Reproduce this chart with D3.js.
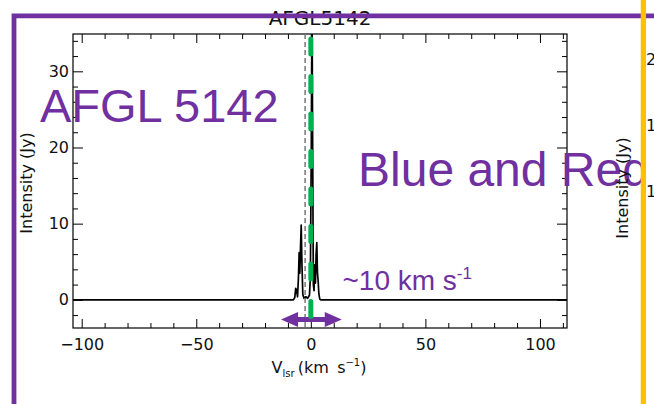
<!DOCTYPE html>
<html><head><meta charset="utf-8">
<script src="https://cdn.jsdelivr.net/npm/d3@7"></script>
<style>
html,body{margin:0;padding:0;background:#fff;}
svg{display:block;}
</style></head>
<body><svg id="c" width="654" height="404"></svg>
<script>
// ---- data ----
const velocity  = [-103.8, -60, -20, -7.6, -7.0, -6.6, -6.2, -5.8, -5.4, -5.1, -4.8, -4.5, -4.2, -3.9, -3.5, -3.0, -2.2, -1.4, -0.6, -0.2, 0.2, 0.5, 0.8, 1.1, 1.4, 1.7, 2.0, 2.3, 2.6, 2.9, 3.2, 3.5, 3.9, 4.3, 20, 60, 111.8];
const intensity = [0, 0, 0, 0, 0.3, 1.5, 1.2, 0.4, 3.0, 6.2, 3.5, 7.0, 9.8, 5.0, 0.7, 0.2, 0.4, 0.2, 0.6, 3.0, 20, 40, 20, 2.0, 1.2, 4.6, 2.2, 6.0, 7.5, 3.5, 2.4, 0.8, 0.1, 0, 0, 0, 0];
const xDomain = [-103.8, 111.8];
const yDomain = [-3.7, 34.9];
const xMajorTicks = [-100, -50, 0, 50, 100];
const xMinorTicks = [-90, -80, -70, -60, -40, -30, -20, -10, 10, 20, 30, 40, 60, 70, 80, 90, 110];
const yMajorTicks = [0, 10, 20, 30];
const yMinorTicks = [-2, 2, 4, 6, 8, 12, 14, 16, 18, 22, 24, 26, 28, 32, 34];
const systemicVelocity = [0];     // green dashed marker
const referenceVelocity = [-2.5]; // grey dashed marker
const arrowSpan = [-13, 13.5];
const arrowLevel = [-2.6];
const plotTitle = "AFGL5142";
const slideTitle = "AFGL 5142";
const slideSubtitle = "Blue and Red";
const widthLabel = "~10 km s";
const widthLabelExp = "-1";
const rightPanelTickLabels = ["2", "1", "1"];
const rightPanelTickValues = [20, 15, 10];

// ---- drawing ----
const svg = d3.select("#c");
const M = {l: 73, r: 567, t: 34, b: 328};
const x = d3.scaleLinear().domain(xDomain).range([M.l, M.r]);
const y = d3.scaleLinear().domain(yDomain).range([M.b, M.t]);
const FONT = "DejaVu Sans";
const PURPLE = "#7030a0";

svg.append("defs").append("clipPath").attr("id", "plotclip")
  .append("rect").attr("x", M.l).attr("y", M.t).attr("width", M.r - M.l).attr("height", M.b - M.t);
svg.select("defs").append("clipPath").attr("id", "slideclip")
  .append("rect").attr("x", 0).attr("y", 0).attr("width", 642).attr("height", 404);

function styleAxis(g) {
  g.select(".domain").remove();
  g.selectAll(".tick line").attr("stroke", "#000").attr("stroke-width", 1);
  g.selectAll(".tick text").attr("font-family", FONT).attr("font-size", 16).attr("fill", "#111");
}
const fmt = d => d3.format("d")(d).replace("-", "\u2212");

// bottom
svg.append("g").attr("transform", `translate(0,${M.b})`)
  .call(d3.axisBottom(x).tickValues(xMajorTicks).tickSizeInner(-9).tickSizeOuter(0).tickPadding(11).tickFormat(fmt))
  .call(styleAxis);
svg.append("g").attr("transform", `translate(0,${M.b})`)
  .call(d3.axisBottom(x).tickValues(xMinorTicks).tickSizeInner(-5).tickSizeOuter(0).tickFormat(""))
  .call(styleAxis);
// top
svg.append("g").attr("transform", `translate(0,${M.t})`)
  .call(d3.axisTop(x).tickValues(xMajorTicks).tickSizeInner(-9).tickSizeOuter(0).tickFormat(""))
  .call(styleAxis);
svg.append("g").attr("transform", `translate(0,${M.t})`)
  .call(d3.axisTop(x).tickValues(xMinorTicks).tickSizeInner(-5).tickSizeOuter(0).tickFormat(""))
  .call(styleAxis);
// left
svg.append("g").attr("transform", `translate(${M.l},0)`)
  .call(d3.axisLeft(y).tickValues(yMajorTicks).tickSizeInner(-10).tickSizeOuter(0).tickPadding(4).tickFormat(fmt))
  .call(styleAxis);
svg.append("g").attr("transform", `translate(${M.l},0)`)
  .call(d3.axisLeft(y).tickValues(yMinorTicks).tickSizeInner(-5).tickSizeOuter(0).tickFormat(""))
  .call(styleAxis);
// right
svg.append("g").attr("transform", `translate(${M.r},0)`)
  .call(d3.axisRight(y).tickValues(yMajorTicks).tickSizeInner(-10).tickSizeOuter(0).tickFormat(""))
  .call(styleAxis);
svg.append("g").attr("transform", `translate(${M.r},0)`)
  .call(d3.axisRight(y).tickValues(yMinorTicks).tickSizeInner(-5).tickSizeOuter(0).tickFormat(""))
  .call(styleAxis);

// frame
svg.append("rect").attr("x", M.l).attr("y", M.t).attr("width", M.r - M.l).attr("height", M.b - M.t)
  .attr("fill", "none").attr("stroke", "#000").attr("stroke-width", 1.2);

// spectrum
const pts = velocity.map((v, i) => [v, intensity[i]]);
svg.append("path").datum(pts).attr("clip-path", "url(#plotclip)")
  .attr("d", d3.line().x(d => x(d[0])).y(d => y(d[1])))
  .attr("fill", "none").attr("stroke", "#000").attr("stroke-width", 1.7).attr("stroke-linejoin", "round");

// grey dashed reference
svg.selectAll("line.ref").data(referenceVelocity).join("line").attr("class", "ref")
  .attr("x1", d => x(d)).attr("x2", d => x(d)).attr("y1", M.t).attr("y2", M.b)
  .attr("stroke", "#777").attr("stroke-width", 1.5).attr("stroke-dasharray", "5,3");

// axis labels and title
svg.append("text").attr("x", (M.l + M.r) / 2).attr("y", 25).attr("text-anchor", "middle")
  .attr("font-family", FONT).attr("font-size", 20).attr("fill", "#111").text(plotTitle);

const xl = svg.append("text").attr("x", 319).attr("y", 373).attr("text-anchor", "middle")
  .attr("font-family", FONT).attr("font-size", 16).attr("fill", "#111");
xl.append("tspan").text("V");
xl.append("tspan").attr("dy", 4).attr("font-size", 10).text("lsr");
xl.append("tspan").attr("dy", -4).text("\u2009(km\u2009 s");
xl.append("tspan").attr("dy", -7).attr("font-size", 10).text("\u22121");
xl.append("tspan").attr("dy", 7).text(")");

svg.append("text").attr("transform", "translate(32,183) rotate(-90)").attr("text-anchor", "middle")
  .attr("font-family", FONT).attr("font-size", 16).attr("fill", "#111").text("Intensity (Jy)");

// arrow
const ax1 = x(arrowSpan[0]), ax2 = x(arrowSpan[1]), ay = y(arrowLevel[0]);
const hl = 17, hh = 7.5, sw = 2.5;
const ap = d3.path();
ap.moveTo(ax1, ay); ap.lineTo(ax1 + hl, ay - hh); ap.lineTo(ax1 + hl, ay - sw);
ap.lineTo(ax2 - hl, ay - sw); ap.lineTo(ax2 - hl, ay - hh); ap.lineTo(ax2, ay);
ap.lineTo(ax2 - hl, ay + hh); ap.lineTo(ax2 - hl, ay + sw); ap.lineTo(ax1 + hl, ay + sw);
ap.lineTo(ax1 + hl, ay + hh); ap.closePath();
svg.append("path").attr("d", ap.toString()).attr("fill", PURPLE);

// green dashed systemic velocity
svg.selectAll("line.sys").data(systemicVelocity).join("line").attr("class", "sys")
  .attr("x1", d => x(d)).attr("x2", d => x(d)).attr("y1", M.t + 5).attr("y2", M.b - 1)
  .attr("stroke", "#00b050").attr("stroke-width", 5).attr("stroke-linecap", "round")
  .attr("stroke-dasharray", "15,22.5");

// width label
const wl = svg.append("text").attr("x", x(13.8)).attr("y", 290)
  .attr("font-family", "Liberation Sans, Arial, sans-serif").attr("font-size", 28).attr("fill", PURPLE);
wl.append("tspan").text(widthLabel);
wl.append("tspan").attr("dy", -11).attr("font-size", 17).text(widthLabelExp);

// slide texts
svg.append("text").attr("x", 40).attr("y", 122)
  .attr("font-family", "Liberation Sans, Arial, sans-serif").attr("font-size", 47).attr("fill", PURPLE).text(slideTitle);
svg.append("text").attr("x", 358).attr("y", 186).attr("clip-path", "url(#slideclip)")
  .attr("font-family", "Liberation Sans, Arial, sans-serif").attr("font-size", 48).attr("fill", PURPLE).text(slideSubtitle);

// right partial panel
const yR = d3.scaleLinear().domain([0, 20]).range([324, 59]);
svg.append("text").attr("transform", "translate(628,188) rotate(-90)").attr("text-anchor", "middle")
  .attr("font-family", FONT).attr("font-size", 16).attr("fill", "#111").text("Intensity (Jy)");
svg.selectAll("text.rt").data(rightPanelTickValues).join("text").attr("class", "rt")
  .attr("x", 646).attr("y", d => yR(d)).attr("dy", "0.36em")
  .attr("font-family", FONT).attr("font-size", 16).attr("fill", "#111")
  .text((d, i) => rightPanelTickLabels[i]);

// slide decorations
svg.append("path").attr("d", "M14,404 L14,15.8 L654,15.8").attr("fill", "none")
  .attr("stroke", PURPLE).attr("stroke-width", 4.8).attr("stroke-linejoin", "miter");
svg.append("line").attr("x1", 643.4).attr("x2", 643.4).attr("y1", 0).attr("y2", 404)
  .attr("stroke", "#ffc000").attr("stroke-width", 5.3);
</script>
</body></html>
